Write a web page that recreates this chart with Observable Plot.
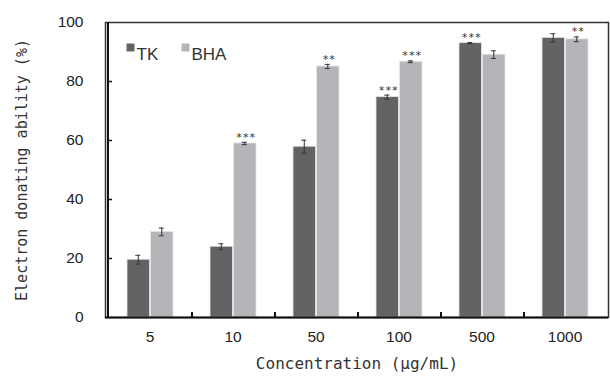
<!DOCTYPE html>
<html><head><meta charset="utf-8">
<script src="https://cdn.jsdelivr.net/npm/d3@7"></script>
<script src="https://cdn.jsdelivr.net/npm/@observablehq/plot@0.6"></script>
<style>
body{margin:0;background:#fff;}
svg{display:block;}
</style>
</head><body><div id="chart"></div>
<script>
const concentrations = ["5", "10", "50", "100", "500", "1000"];
const tkValues = [19.6, 24.0, 57.9, 74.7, 93.0, 94.8];
const tkErrors = [1.5, 1.0, 2.2, 0.7, 0.2, 1.4];
const bhaValues = [29.0, 59.0, 85.1, 86.7, 89.1, 94.3];
const bhaErrors = [1.3, 0.4, 0.7, 0.3, 1.3, 0.8];
const tkStars = ["", "", "", "***", "***", ""];
const bhaStars = ["", "***", "**", "***", "", "**"];
const yTicks = [0, 20, 40, 60, 80, 100];
const innerTicks = [20, 40, 60, 80];
const seriesNames = ["TK", "BHA"];

const tk = concentrations.map((c, i) => ({c, v: tkValues[i], e: tkErrors[i], s: tkStars[i]}));
const bha = concentrations.map((c, i) => ({c, v: bhaValues[i], e: bhaErrors[i], s: bhaStars[i]}));

const TKC = "#636366", BHAC = "#b4b5b8";
const sans = "'Liberation Sans', Arial, sans-serif";
const mono = "'DejaVu Sans Mono', 'Liberation Mono', monospace";

function seriesMarks(data, color, inL, inR, off) {
  return [
    Plot.barY(data, {x: "c", y: "v", fill: color, stroke: "#e8e8e8", strokeWidth: 0.8, insetLeft: inL, insetRight: inR}),
    Plot.ruleX(data, {x: "c", y1: d => d.v - d.e, y2: d => d.v + d.e, dx: off, stroke: "#333", strokeWidth: 1}),
    Plot.tickY(data, {x: "c", y: d => d.v - d.e, stroke: "#333", strokeWidth: 1, insetLeft: 42 + off - 3, insetRight: 42 - off - 3}),
    Plot.tickY(data, {x: "c", y: d => d.v + d.e, stroke: "#333", strokeWidth: 1, insetLeft: 42 + off - 3, insetRight: 42 - off - 3}),
    Plot.text(data, {x: "c", y: d => d.v + d.e, text: "s", dx: off + 1, dy: -5, lineAnchor: "middle", fontSize: 11, fill: "#333", fontFamily: mono, letterSpacing: -1})
  ];
}

const chart = Plot.plot({
  width: 610,
  height: 377,
  marginLeft: 105,
  marginRight: 2,
  marginTop: 22,
  marginBottom: 60,
  style: {fontFamily: sans, background: "#fff"},
  x: {domain: concentrations, padding: 0, label: null},
  y: {domain: [0, 100], label: null},
  marks: [
    Plot.axisY(yTicks, {tickSize: 0, tickPadding: 22, fontSize: 15.5, fill: "#222", label: null}),
    Plot.axisX({tickSize: 0, tickPadding: 13, fontSize: 15.5, fill: "#222", label: null}),
    ...seriesMarks(tk, TKC, 19, 41.5, -11.75),
    ...seriesMarks(bha, BHAC, 42.5, 18, 11.75),
    Plot.frame({stroke: "#333", strokeWidth: 1.5}),
    Plot.ruleY([0], {stroke: "#111", strokeWidth: 2}),
    Plot.ruleX(concentrations.slice(0, 1), {x: d => d, dx: -42, stroke: "#111", strokeWidth: 2}),
    Plot.ruleX(concentrations.slice(0, -1), {x: d => d, dx: 42, y1: 0, y2: 1.7, stroke: "#111", strokeWidth: 2}),
    Plot.tickY(innerTicks, {x: () => concentrations[0], y: d => d, insetLeft: 0, insetRight: 79, stroke: "#111", strokeWidth: 1.5}),
    Plot.dot([seriesNames[0]], {frameAnchor: "top-left", dx: 25, dy: 25, symbol: "square", r: 4.5, fill: TKC}),
    Plot.text([seriesNames[0]], {frameAnchor: "top-left", dx: 31, dy: 25, text: d => d, textAnchor: "start", fontSize: 17, fill: "#333", fontFamily: sans}),
    Plot.dot([seriesNames[1]], {frameAnchor: "top-left", dx: 80, dy: 25, symbol: "square", r: 4.5, fill: BHAC}),
    Plot.text([seriesNames[1]], {frameAnchor: "top-left", dx: 86, dy: 25, text: d => d, textAnchor: "start", fontSize: 17, fill: "#333", fontFamily: sans}),
    Plot.text(["Electron donating ability (%)"], {frameAnchor: "left", dx: -83, rotate: -90, textAnchor: "middle", text: d => d, fontSize: 15, fill: "#333", fontFamily: mono}),
    Plot.text(["Concentration (μg/mL)"], {frameAnchor: "bottom", dy: 51, text: d => d, fontSize: 16, fill: "#333", fontFamily: mono})
  ]
});
document.getElementById("chart").appendChild(chart);
</script>
</body></html>
